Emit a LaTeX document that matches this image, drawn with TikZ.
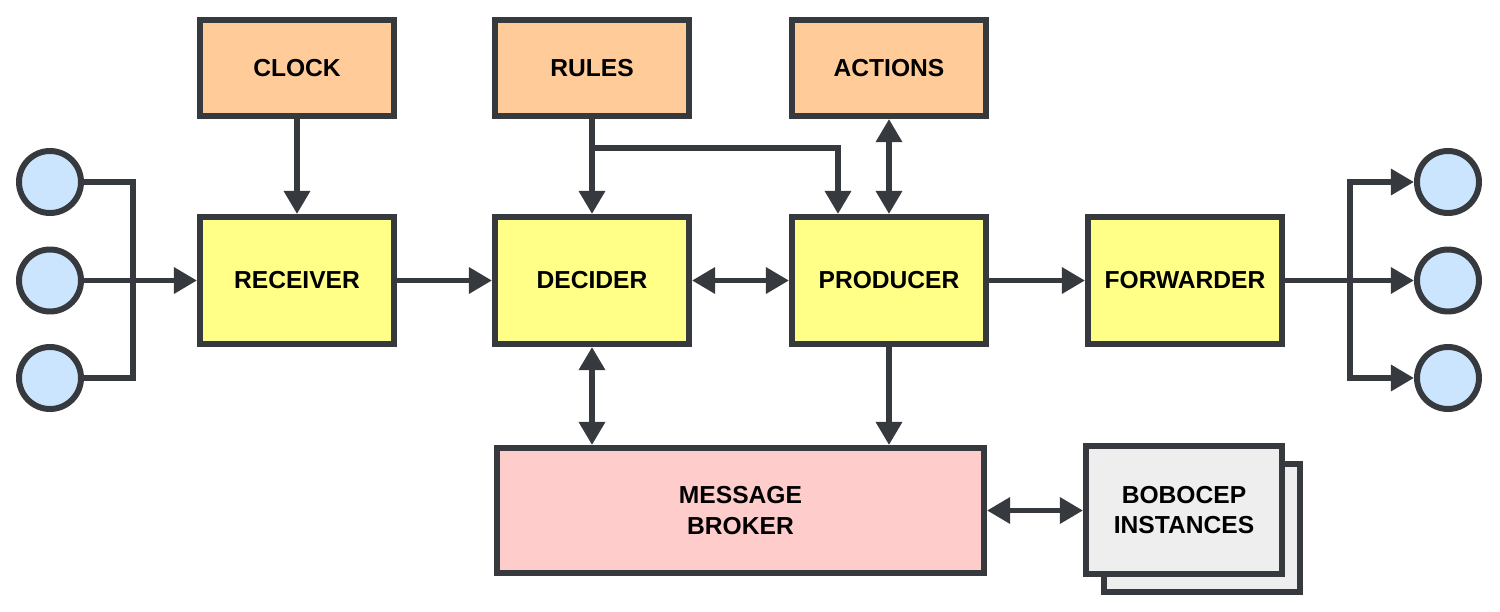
\documentclass[tikz,border=0pt]{standalone}
\usepackage{fontspec}
\setmainfont{Liberation Sans}
\usetikzlibrary{arrows.meta}
\definecolor{edge}{HTML}{36393D}
\definecolor{orangefill}{HTML}{FFCC99}
\definecolor{yellowfill}{HTML}{FFFF88}
\definecolor{bluefill}{HTML}{CCE5FF}
\definecolor{pinkfill}{HTML}{FFCCCC}
\definecolor{greyfill}{HTML}{EEEEEE}
\tikzset{
  box/.style={draw=edge, line width=1.7pt, rectangle, align=center,
    font=\fontsize{7}{8.6}\selectfont\bfseries, text=black},
  inbox/.style={box, fill=orangefill, minimum width=1.94cm, minimum height=0.96cm},
  corebox/.style={box, fill=yellowfill, minimum width=1.94cm, minimum height=1.27cm},
  io/.style={draw=edge, line width=1.7pt, circle, fill=bluefill, minimum size=0.62cm, inner sep=0pt},
  wire/.style={draw=edge, line width=1.7pt, line join=miter},
  arr/.style={wire, -{Triangle[length=6.6pt,width=7.2pt]}},
  biarr/.style={wire, {Triangle[length=6.6pt,width=7.2pt]}-{Triangle[length=6.6pt,width=7.2pt]}}
}
\begin{document}
\begin{tikzpicture}
  \useasboundingbox (0,0) rectangle (15,6.11);
  % top row
  \node[inbox] (clock) at (2.97,5.43) {CLOCK};
  \node[inbox] (rules) at (5.92,5.43) {RULES};
  \node[inbox] (actions) at (8.89,5.43) {ACTIONS};
  % main row
  \node[corebox] (receiver) at (2.97,3.305) {RECEIVER};
  \node[corebox] (decider) at (5.92,3.305) {DECIDER};
  \node[corebox] (producer) at (8.89,3.305) {PRODUCER};
  \node[corebox] (forwarder) at (11.85,3.305) {FORWARDER};
  % bottom row
  \node[box, fill=pinkfill, minimum width=4.87cm, minimum height=1.25cm] (broker) at (7.405,1.005) {MESSAGE\\BROKER};
  \node[box, fill=greyfill, minimum width=1.96cm, minimum height=1.28cm] (peers2) at (12.02,0.83) {};
  \node[box, fill=greyfill, minimum width=1.96cm, minimum height=1.28cm] (peers) at (11.84,1.01) {BOBOCEP\\INSTANCES};
  % sources and sinks
  \node[io] (src1) at (0.50,4.29) {};
  \node[io] (src2) at (0.50,3.305) {};
  \node[io] (src3) at (0.50,2.33) {};
  \node[io] (dst1) at (14.48,4.29) {};
  \node[io] (dst2) at (14.48,3.305) {};
  \node[io] (dst3) at (14.48,2.33) {};
  \coordinate (joinin) at (1.33,3.305);
  \coordinate (joinout) at (13.50,3.305);
  \coordinate (split) at (5.92,4.63);

  \draw[wire] (src1.east) -| (joinin) |- (src3.east);
  \draw[arr] (src2) -- (receiver);
  \draw[arr] (clock) -- (receiver);
  \draw[arr] (receiver) -- (decider);
  \draw[arr] (rules) -- (decider);
  \draw[arr] (split) -| ([xshift=-0.51cm]producer.north);
  \draw[biarr] (actions) -- (producer);
  \draw[biarr] (decider) -- (producer);
  \draw[arr] (producer) -- (forwarder);
  \draw[biarr] (decider.south) -- (decider.south |- broker.north);
  \draw[arr] (producer.south) -- (producer.south |- broker.north);
  \draw[biarr] (broker.east) -- (broker.east -| peers.west);
  \draw[arr] (forwarder) -- (dst2);
  \draw[arr] (joinout) |- (dst1);
  \draw[arr] (joinout) |- (dst3);
\end{tikzpicture}
\end{document}
